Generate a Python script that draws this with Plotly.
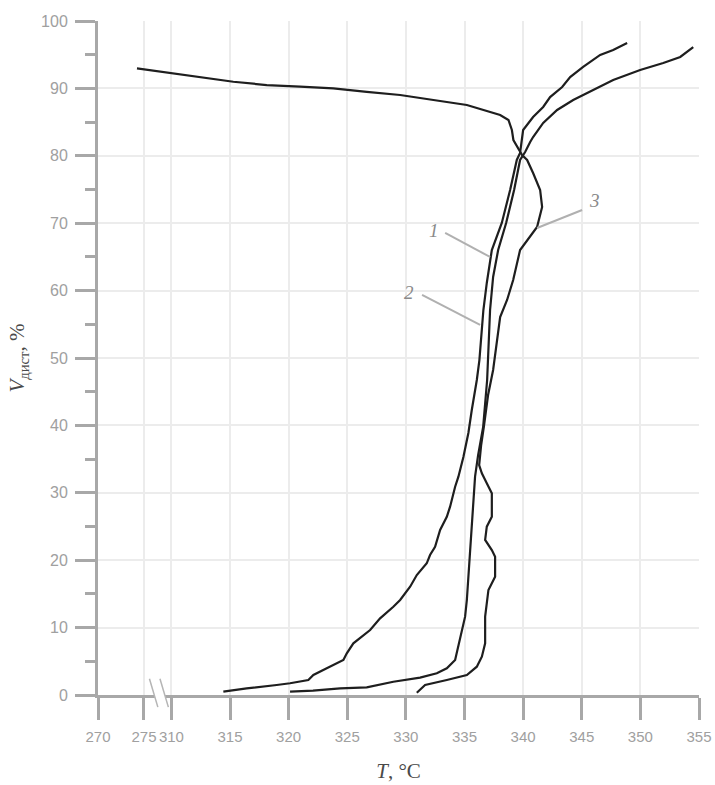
import numpy as np
import plotly.graph_objects as go

# ---------------- data (T in °C, V in %) ----------------
# curve 1
t1 = [320.12, 322.08, 324.39, 326.66, 328.93, 331.21, 332.64, 333.49, 334.20, 334.48,
      334.77, 335.05, 335.20, 335.33, 335.48, 335.62, 335.76, 335.90, 336.16, 336.59,
      336.93, 337.18, 337.44, 337.87, 338.55, 339.23, 339.74, 340.17, 340.60, 340.85,
      341.71, 342.90, 344.27, 345.97, 347.68, 349.98, 351.95, 353.40, 354.51]
v1 = [0.49, 0.64, 0.99, 1.14, 1.97, 2.57, 3.22, 3.96, 5.19, 7.17,
      9.39, 11.62, 14.09, 17.55, 21.51, 25.47, 28.93, 32.39, 35.60, 39.76,
      46.74, 57.12, 62.02, 66.02, 70.03, 74.93, 79.38, 80.56, 82.05, 82.79,
      84.87, 86.80, 88.28, 89.76, 91.25, 92.73, 93.77, 94.66, 96.14]

# curve 2
t2 = [314.43, 316.42, 318.98, 320.12, 321.68, 322.11, 323.25, 324.67, 324.96, 325.52,
      326.95, 327.80, 328.93, 329.51, 330.36, 330.93, 331.78, 332.06, 332.49, 332.92,
      333.49, 333.77, 334.20, 334.48, 334.91, 335.33, 335.62, 336.05, 336.27, 336.48,
      336.61, 336.90, 337.33, 338.18, 338.89, 339.46, 339.74, 340.00, 340.85, 341.71,
      342.30, 343.33, 344.01, 345.12, 346.57, 347.68, 348.87]
v2 = [0.49, 0.99, 1.48, 1.74, 2.23, 2.97, 3.96, 5.19, 6.19, 7.67,
      9.64, 11.38, 13.10, 14.09, 16.07, 17.80, 19.54, 20.77, 22.00, 24.48,
      26.45, 27.94, 30.90, 32.39, 35.36, 38.87, 42.28, 46.74, 49.70, 53.71,
      57.12, 61.13, 66.02, 70.03, 74.93, 79.38, 80.42, 83.83, 85.76, 87.24,
      88.72, 90.21, 91.69, 93.18, 94.96, 95.70, 96.74]

# curve 3
t3 = [330.93, 331.64, 333.49, 335.20, 336.05, 336.48, 336.76, 336.76, 337.04, 337.61,
      337.61, 337.33, 336.76, 336.90, 337.33, 337.33, 336.90, 336.48, 336.25, 336.42,
      336.67, 337.01, 337.44, 337.78, 338.04, 338.63, 339.15, 339.74, 340.34, 341.19,
      341.62, 341.45, 340.85, 340.34, 339.91, 339.49, 339.17, 339.04, 338.75, 338.04,
      336.61, 335.20, 332.35, 329.51, 326.66, 323.81, 320.97, 318.13, 315.28, 312.44,
      274.24]
v3 = [0.34, 1.48, 2.23, 2.97, 4.20, 5.68, 7.67, 11.62, 15.58, 17.55,
      20.52, 21.51, 23.00, 24.97, 26.45, 29.93, 31.41, 32.89, 34.12, 37.09,
      40.06, 44.51, 48.22, 52.67, 56.08, 58.61, 61.57, 66.02, 67.51, 69.44,
      72.40, 74.93, 77.45, 79.38, 80.12, 81.31, 82.34, 83.83, 85.31, 86.05,
      86.80, 87.54, 88.28, 89.02, 89.47, 90.01, 90.25, 90.50, 90.99, 91.65,
      92.98]

x_ticks = [270, 275, 310, 315, 320, 325, 330, 335, 340, 345, 350, 355]
y_ticks = [0, 10, 20, 30, 40, 50, 60, 70, 80, 90, 100]

# curve labels: text, label position, leader line start, leader line end (T, V)
lab_text = ["1", "2", "3"]
lab_pos = [(332.39, 68.99), (330.27, 59.79), (346.06, 73.44)]
lead_from = [(333.35, 68.55), (331.38, 59.35), (345.03, 71.96)]
lead_to = [(337.18, 64.99), (336.33, 54.90), (341.19, 69.29)]

# ---------------- broken x-axis mapping ----------------
U270, U275, U310 = 303.74, 307.66, 310.0


def to_u(T):
    T = np.asarray(T, dtype=float)
    return np.where(
        T >= 310, T,
        np.where(T >= 275, U275 + (T - 275) * (U310 - U275) / 35.0,
                 U270 + (T - 270) * (U275 - U270) / 5.0))


AX = "#a8a8a8"
GRID = "#ececec"
LINE = "#1e1e1e"

fig = go.Figure()
for t, v in [(t1, v1), (t2, v2), (t3, v3)]:
    fig.add_trace(go.Scatter(x=to_u(t), y=v, mode="lines",
                             line=dict(color=LINE, width=2.2), hoverinfo="skip"))

shapes = []
for (a, b) in zip(lead_from, lead_to):
    shapes.append(dict(type="line", xref="x", yref="y",
                       x0=float(to_u(a[0])), y0=a[1], x1=float(to_u(b[0])), y1=b[1],
                       line=dict(color="#b0b0b0", width=2), layer="above"))

annotations = []
for txt, (tx, ty) in zip(lab_text, lab_pos):
    annotations.append(dict(x=float(to_u(tx)), y=ty, xref="x", yref="y",
                            text="<i>%s</i>" % txt, showarrow=False,
                            font=dict(family="Liberation Serif", size=19, color="#8a8a8a")))

# axis break marks ("\\" on the x-axis between 275 and 310), in domain coords
x_lo, x_hi = U270, 355.0


def fx(u):
    return (u - x_lo) / (x_hi - x_lo)


bx0 = fx(float(to_u(282.0)))
bw = 0.0175
dx = 0.0140
ytop, ybot = 0.024, -0.018
shapes.append(dict(type="path", xref="x domain", yref="y domain",
                   path="M %f,%f L %f,%f L %f,%f L %f,%f Z" % (
                       bx0, ytop, bx0 + bw, ytop, bx0 + bw + dx, ybot, bx0 + dx, ybot),
                   fillcolor="white", line=dict(width=0), layer="above"))
for off in (0.0, bw):
    shapes.append(dict(type="line", xref="x domain", yref="y domain",
                       x0=bx0 + off, y0=ytop, x1=bx0 + off + dx, y1=ybot,
                       line=dict(color="#b5b5b5", width=1.5), layer="above"))

fig.update_layout(
    width=715, height=785,
    margin=dict(l=98, r=16, t=21, b=90, autoexpand=False),
    plot_bgcolor="white", paper_bgcolor="white",
    showlegend=False,
    shapes=shapes, annotations=annotations,
    xaxis=dict(
        range=[x_lo, x_hi], tickmode="array",
        tickvals=[float(u) for u in to_u(x_ticks)],
        ticktext=[str(t) for t in x_ticks],
        tickangle=0,
        showgrid=True, gridcolor=GRID, gridwidth=2,
        showline=True, linecolor=AX, linewidth=3,
        ticks="outside", ticklen=22, tickwidth=3, tickcolor=AX,
        ticklabelstandoff=4,
        tickfont=dict(family="Liberation Sans", size=15, color="#a0a0a0"),
        zeroline=False, automargin=False,
        title=dict(text="<i>T</i>, °C", standoff=20,
                   font=dict(family="Liberation Serif", size=21, color="#4a4a4a")),
    ),
    yaxis=dict(
        range=[0, 100], tickmode="array", tickvals=y_ticks,
        ticktext=[str(v) for v in y_ticks],
        showgrid=True, gridcolor=GRID, gridwidth=2,
        showline=True, linecolor=AX, linewidth=3,
        ticks="outside", ticklen=20, tickwidth=3, tickcolor=AX,
        ticklabelstandoff=4,
        minor=dict(dtick=5, tick0=0, ticks="outside", ticklen=10, tickwidth=3,
                   tickcolor=AX, showgrid=False),
        tickfont=dict(family="Liberation Sans", size=16, color="#a0a0a0"),
        zeroline=False, automargin=False,
        title=dict(text="<i>V</i><sub>дист</sub>, %", standoff=11,
                   font=dict(family="Liberation Serif", size=21, color="#4a4a4a")),
    ),
)

fig.write_html("out.html", config={"displayModeBar": False},
               post_script="document.body.style.margin='0px';document.body.style.overflow='hidden';")
